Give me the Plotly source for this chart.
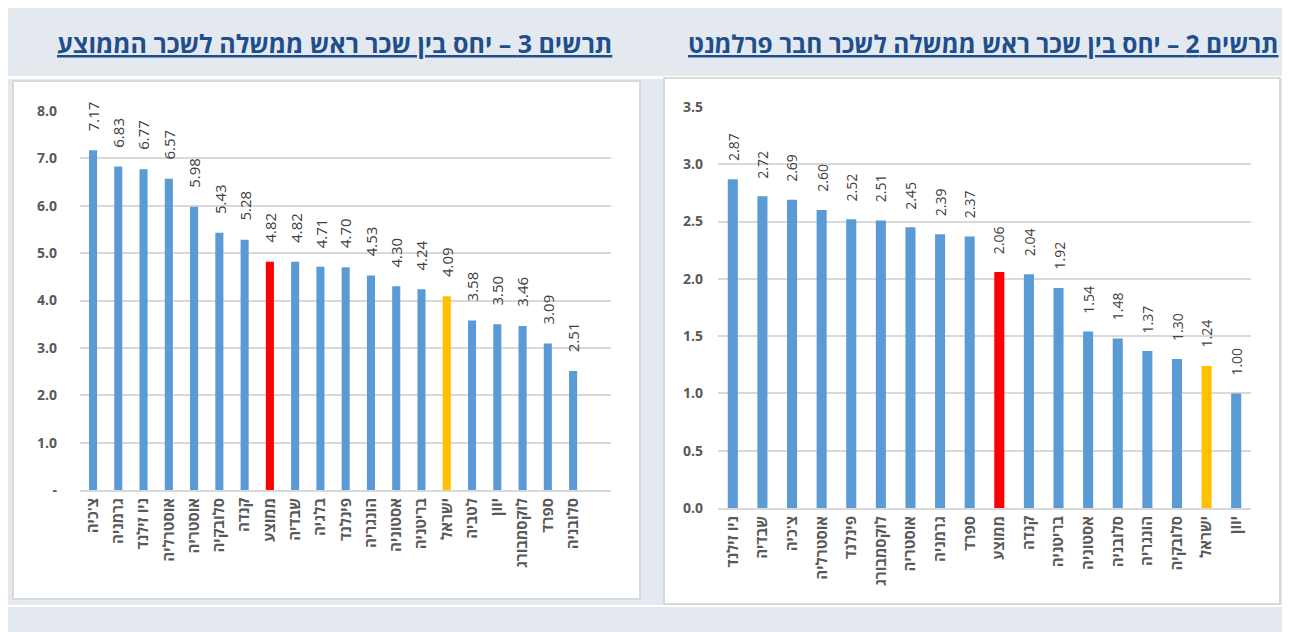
import plotly.graph_objects as go

# Chart 3 (left): PM salary / average salary
left_categories = ["צ'כיה", "גרמניה", "ניו זילנד", "אוסטרליה", "אוסטריה", "סלובקיה", "קנדה",
                   "ממוצע", "שבדיה", "בלגיה", "פינלנד", "הונגריה", "אסטוניה", "בריטניה",
                   "ישראל", "לטביה", "יוון", "לוקסמבורג", "ספרד", "סלובניה"]
left_values = [7.17, 6.83, 6.77, 6.57, 5.98, 5.43, 5.28, 4.82, 4.82, 4.71, 4.70, 4.53,
               4.30, 4.24, 4.09, 3.58, 3.50, 3.46, 3.09, 2.51]
left_tickvals = [0, 1, 2, 3, 4, 5, 6, 7, 8]
left_ticktext = ["-", "1.0", "2.0", "3.0", "4.0", "5.0", "6.0", "7.0", "8.0"]

# Chart 2 (right): PM salary / MP salary
right_categories = ["ניו זילנד", "שבדיה", "צ'כיה", "אוסטרליה", "פינלנד", "לוקסמבורג", "אוסטריה",
                    "גרמניה", "ספרד", "ממוצע", "קנדה", "בריטניה", "אסטוניה", "סלובניה",
                    "הונגריה", "סלובקיה", "ישראל", "יוון"]
right_values = [2.87, 2.72, 2.69, 2.60, 2.52, 2.51, 2.45, 2.39, 2.37, 2.06, 2.04, 1.92,
                1.54, 1.48, 1.37, 1.30, 1.24, 1.00]
right_tickvals = [0, 0.5, 1, 1.5, 2, 2.5, 3, 3.5]
right_ticktext = ["0.0", "0.5", "1.0", "1.5", "2.0", "2.5", "3.0", "3.5"]

left_title = "תרשים 3 – יחס בין שכר ראש ממשלה לשכר הממוצע"
right_title = "תרשים 2 – יחס בין שכר ראש ממשלה לשכר חבר פרלמנט"

BLUE = "#5B9BD5"
RED = "#FF0000"
YELLOW = "#FFC000"
OFF = 8  # page body margin
W, H = 1290 - OFF, 632 - OFF
FONT = "Open Sans, Liberation Sans, DejaVu Sans, sans-serif"


def colors(cats):
    out = []
    for c in cats:
        if c == "ממוצע":
            out.append(RED)
        elif c == "ישראל":
            out.append(YELLOW)
        else:
            out.append(BLUE)
    return out


def px(x):
    return (x - OFF) / W


def py(y):
    return 1 - (y - OFF) / H


fig = go.Figure()

fig.add_trace(go.Bar(
    x=list(range(len(left_categories))), y=left_values,
    marker=dict(color=colors(left_categories), line=dict(width=0)),
    width=0.32, xaxis="x", yaxis="y", hoverinfo="skip",
))

fig.add_trace(go.Bar(
    x=list(range(len(right_categories))), y=right_values,
    marker=dict(color=colors(right_categories), line=dict(width=0)),
    width=0.34, xaxis="x2", yaxis="y2", hoverinfo="skip",
))

shapes = [
    # white separator lines
    dict(type="rect", xref="paper", yref="paper", x0=0, x1=1, y0=py(79), y1=py(76),
         fillcolor="white", line=dict(width=0), layer="below"),
    dict(type="rect", xref="paper", yref="paper", x0=0, x1=1, y0=py(607), y1=py(605),
         fillcolor="white", line=dict(width=0), layer="below"),
    # chart boxes
    dict(type="rect", xref="paper", yref="paper", x0=px(13), x1=px(640), y0=py(599), y1=py(81),
         fillcolor="white", line=dict(color="#D9D9D9", width=2), layer="below"),
    dict(type="rect", xref="paper", yref="paper", x0=px(664), x1=px(1280), y0=py(604), y1=py(78),
         fillcolor="white", line=dict(color="#D9D9D9", width=2), layer="below"),
]

annotations = [
    dict(text=f"<u>{left_title}</u>", xref="paper", yref="paper", x=px(334), y=py(43),
         xanchor="center", yanchor="middle", showarrow=False,
         font=dict(family=FONT, size=25, color="#1F4E8C", weight="bold")),
    dict(text=f"<u>{right_title}</u>", xref="paper", yref="paper", x=px(983), y=py(43),
         xanchor="center", yanchor="middle", showarrow=False,
         font=dict(family=FONT, size=24.5, color="#1F4E8C", weight="bold")),
]

# data labels above bars (rotated), positioned through the axes
for i, v in enumerate(left_values):
    annotations.append(dict(
        text=f"{v:.2f}", x=i, y=v, xref="x", yref="y", showarrow=False,
        textangle=-90, xanchor="center", yanchor="bottom", yshift=17,
        font=dict(family=FONT, size=15, color="#404040")))
for i, v in enumerate(right_values):
    annotations.append(dict(
        text=f"{v:.2f}", x=i, y=v, xref="x2", yref="y2", showarrow=False,
        textangle=-90, xanchor="center", yanchor="bottom", yshift=16,
        font=dict(family=FONT, size=14, color="#404040")))

tickfont_y = dict(family=FONT, size=14, color="#595959", weight="bold")
tickfont_x = dict(family=FONT, size=15, color="#595959", weight="bold")

fig.update_layout(
    width=W, height=H,
    margin=dict(l=0, r=0, t=0, b=0, pad=0, autoexpand=False),
    paper_bgcolor="#E4E9F0",
    plot_bgcolor="rgba(0,0,0,0)",
    showlegend=False,
    shapes=shapes,
    annotations=annotations,
    xaxis=dict(domain=[px(80), px(611)], range=[-0.515, 20.5], automargin=False,
               tickvals=list(range(len(left_categories))), ticktext=left_categories,
               tickangle=-90, tickfont=tickfont_x, showgrid=False, zeroline=False,
               showline=True, linecolor="#D9D9D9", linewidth=2, ticks="", anchor="y"),
    yaxis=dict(domain=[py(490), py(111)], range=[0, 8], automargin=False,
               tickvals=left_tickvals, ticktext=left_ticktext, tickfont=tickfont_y,
               showgrid=True, gridcolor="#D9D9D9", gridwidth=2, zeroline=False,
               showline=False, ticklabelstandoff=22, anchor="x"),
    xaxis2=dict(domain=[px(718), px(1251)], range=[-0.5, 17.5], automargin=False,
                tickvals=list(range(len(right_categories))), ticktext=right_categories,
                tickangle=-90, tickfont=tickfont_x, showgrid=False, zeroline=False,
                showline=True, linecolor="#D9D9D9", linewidth=2, ticks="", anchor="y2"),
    yaxis2=dict(domain=[py(508), py(107)], range=[0, 3.5], automargin=False,
                tickvals=right_tickvals, ticktext=right_ticktext, tickfont=tickfont_y,
                showgrid=True, gridcolor="#D9D9D9", gridwidth=2, zeroline=False,
                showline=False, ticklabelstandoff=14, anchor="x2"),
)

fig.write_html("out.html")
